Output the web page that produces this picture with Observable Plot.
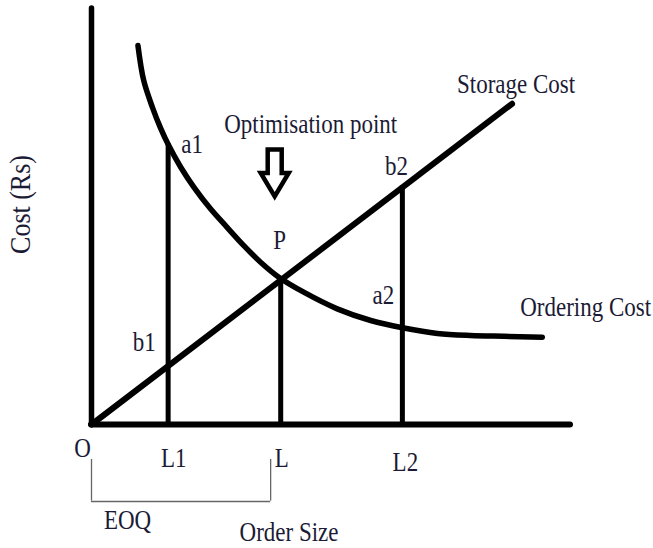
<!DOCTYPE html>
<html><head><meta charset="utf-8">
<script src="https://cdn.jsdelivr.net/npm/d3@7"></script>
<script src="https://cdn.jsdelivr.net/npm/@observablehq/plot@0.6"></script>
<style>body{margin:0;background:#fff}</style>
</head><body><div id="chart"></div>
<script>
// Ordering cost curve (order size, cost), arbitrary units 0–100
const orderingX = [9.7, 10.9, 12.7, 14.4, 16.1, 18.6, 21.4, 24.8, 28.3, 31.8, 35.3, 39.1, 44.3, 51.3, 58.3, 65.2, 72.2, 79.1, 86.1, 94.1];
const orderingY = [91.1, 82.7, 76.3, 71.3, 67.1, 61.9, 57.0, 51.9, 47.4, 43.0, 39.0, 35.4, 31.8, 27.8, 25.0, 23.2, 21.9, 21.4, 21.2, 21.0];
// Storage cost straight line (start, end)
const storageX = [0, 87.8];
const storageY = [0, 77.1];
// Axis extents
const xMax = 100, yMax = 100;
// Order sizes marked on the axis
const tickNames = ["O", "L1", "L", "L2"];
const tickValues = [0, 16.0, 39.5, 64.9];
// Verticals dropped from the curves
const dropX = [16.0, 39.5, 64.9];
const dropTop = [67.4, 35.0, 57.4];
// Labelled points
const pointNames = ["a1", "b1", "P", "b2", "a2"];
const pointX = [16.0, 16.0, 39.5, 64.9, 64.9];
const pointY = [67.4, 14.0, 35.0, 57.4, 23.2];
// EOQ bracket end (order size)
const eoqEnd = 37.4;
// Texts
const titleText = "Optimisation point";
const storageLabel = "Storage Cost";
const orderingLabel = "Ordering Cost";
const eoqLabel = "EOQ";
const xLabel = "Order Size";
const yLabel = "Cost (Rs)";

const ordering = orderingX.map((x, i) => ({x, y: orderingY[i]}));
const storage = storageX.map((x, i) => ({x, y: storageY[i]}));
const drops = dropX.map((x, i) => ({x, y1: 0, y2: dropTop[i]}));
const ticks = tickNames.map((name, i) => ({name, x: tickValues[i]}));
const points = pointNames.map((name, i) => ({name, x: pointX[i], y: pointY[i]}));
const P = points.find(d => d.name === "P");

const ink = "#1b1b35";
const font = "Liberation Serif";
const fs = 23;

// label offsets from their anchors (pixels)
const pointOffsets = {a1: [24, 9], b1: [-24, -15], P: [-1, -30], b2: [-6, -11], a2: [-19, -24]};
const tickOffsets = {O: [-9, 32], L1: [5.5, 42], L: [1, 42], L2: [3, 46]};

const arrowSymbol = {
  draw(context) {
    context.moveTo(-7, -23.5);
    context.lineTo(7, -23.5);
    context.lineTo(7, 0);
    context.lineTo(14, 0);
    context.lineTo(0, 23.5);
    context.lineTo(-14, 0);
    context.lineTo(-7, 0);
    context.closePath();
  }
};

const txt = {fill: ink, fontFamily: font, fontSize: fs, textAnchor: "middle", lineAnchor: "middle"};

const svg = Plot.plot({
  width: 653,
  height: 548,
  marginLeft: 91,
  marginRight: 83,
  marginTop: 8,
  marginBottom: 124,
  x: {domain: [0, xMax], axis: null},
  y: {domain: [0, yMax], axis: null},
  style: {background: "#fff"},
  marks: [
    // axes
    Plot.ruleX([{x: 0, y1: 0, y2: yMax}], {x: "x", y1: "y1", y2: "y2", stroke: "#000", strokeWidth: 5.5, strokeLinecap: "round"}),
    Plot.ruleY([{y: 0, x1: 0, x2: xMax}], {y: "y", x1: "x1", x2: "x2", stroke: "#000", strokeWidth: 6, strokeLinecap: "round"}),
    // verticals
    Plot.ruleX(drops, {x: "x", y1: "y1", y2: "y2", stroke: "#000", strokeWidth: 5}),
    // curves
    Plot.line(storage, {x: "x", y: "y", stroke: "#000", strokeWidth: 6, strokeLinecap: "round"}),
    Plot.line(ordering, {x: "x", y: "y", curve: "catmull-rom", stroke: "#000", strokeWidth: 5.5, strokeLinecap: "round"}),
    // EOQ bracket
    Plot.ruleY([{y: 0, x1: 0, x2: eoqEnd}], {y: "y", x1: "x1", x2: "x2", dy: 77, stroke: "#666", strokeWidth: 1.3}),
    Plot.ruleX([0, eoqEnd], {y1: 0, y2: -10, dy: 35, stroke: "#666", strokeWidth: 1.3}),
    // arrow
    Plot.dot([P], {x: "x", y: "y", dx: -6, dy: -106, symbol: arrowSymbol, fill: "#fff", stroke: "#000", strokeWidth: 4.5, strokeLinejoin: "miter"}),
    // point labels
    ...points.map(p => Plot.text([p], {x: "x", y: "y", text: "name", dx: pointOffsets[p.name][0], dy: pointOffsets[p.name][1], ...txt})),
    // tick labels
    ...ticks.map(t => Plot.text([t], {x: "x", y: 0, text: "name", dx: tickOffsets[t.name][0], dy: tickOffsets[t.name][1], ...txt})),
    // annotations
    Plot.text([P], {x: "x", y: "y", text: () => titleText, dx: 30, dy: -146, ...txt}),
    Plot.text([storage[1]], {x: "x", y: "y", text: () => storageLabel, ...txt, textAnchor: "start", dx: -55, dy: -11}),
    Plot.text([ordering[ordering.length - 1]], {x: "x", y: "y", text: () => orderingLabel, ...txt, textAnchor: "start", dx: -22, dy: -21}),
    Plot.text([{x: 0, y: 0}], {x: "x", y: "y", text: () => eoqLabel, dx: 36, dy: 104, ...txt}),
    Plot.text([xLabel], {frameAnchor: "bottom", text: d => d, ...txt, dx: -42, dy: 116}),
    Plot.text([yLabel], {frameAnchor: "left", text: d => d, ...txt, fontSize: 26, rotate: -90, dx: -62, dy: -12})
  ]
});

// stretch glyphs vertically like the reference (tall serif lettering)
svg.querySelectorAll("text").forEach(t => {
  const x = t.getAttribute("x"), y = t.getAttribute("y");
  let tr = t.getAttribute("transform") || "";
  if (x != null || y != null) {
    tr += ` translate(${+x || 0},${+y || 0})`;
    t.removeAttribute("x"); t.removeAttribute("y");
  }
  t.setAttribute("transform", tr + " scale(1,1.15)");
});

document.getElementById("chart").appendChild(svg);
</script>
</body></html>
